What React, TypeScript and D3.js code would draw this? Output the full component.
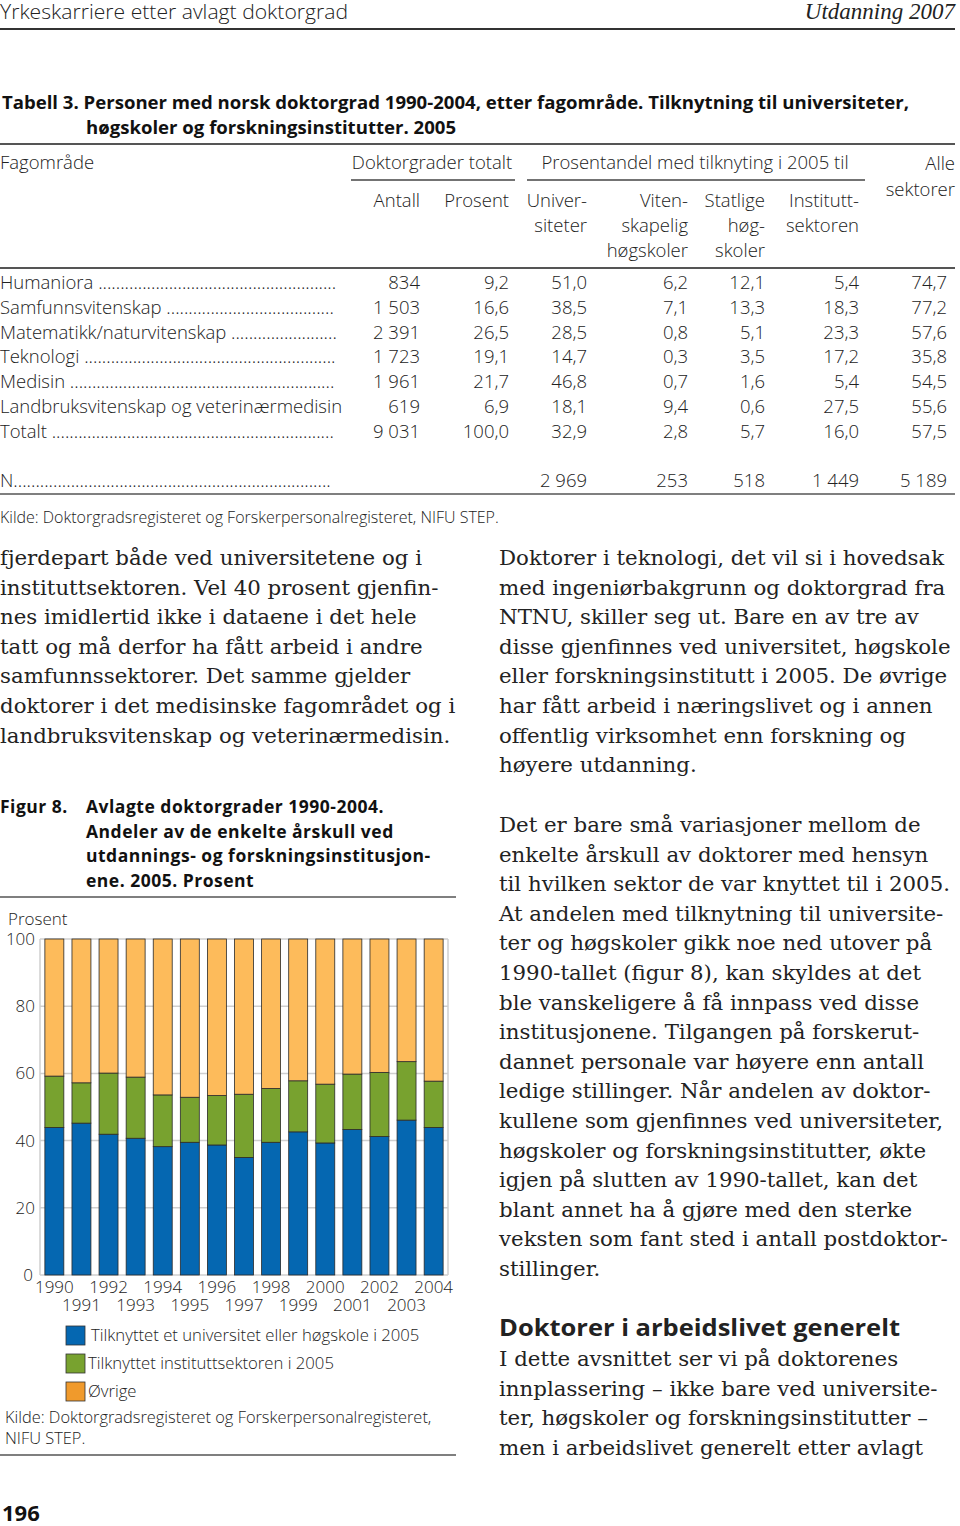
import React from "react";
import * as d3 from "d3";

const years = ["1990","1991","1992","1993","1994","1995","1996","1997","1998","1999","2000","2001","2002","2003","2004"];
const uniShare = [43.9,45.2,41.9,40.7,38.2,39.5,38.7,35.0,39.5,42.6,39.3,43.3,41.2,46.1,43.9];
const instShare = [15.3,12.0,18.2,18.2,15.4,13.4,14.7,18.8,16.0,15.2,17.5,16.5,19.1,17.4,13.8];
const seriesNames = ["Tilknyttet et universitet eller høgskole i 2005","Tilknyttet instituttsektoren i 2005","Øvrige"];
const yTicks = [0,20,40,60,80,100];

const fields = ["Humaniora","Samfunnsvitenskap","Matematikk/naturvitenskap","Teknologi","Medisin","Landbruksvitenskap og veterinærmedisin","Totalt"];
const antall = ["834","1 503","2 391","1 723","1 961","619","9 031"];
const prosent = ["9,2","16,6","26,5","19,1","21,7","6,9","100,0"];
const univ = ["51,0","38,5","28,5","14,7","46,8","18,1","32,9"];
const viten = ["6,2","7,1","0,8","0,3","0,7","9,4","2,8"];
const statlige = ["12,1","13,3","5,1","3,5","1,6","0,6","5,7"];
const institutt = ["5,4","18,3","23,3","17,2","5,4","27,5","16,0"];
const alle = ["74,7","77,2","57,6","35,8","54,5","55,6","57,5"];
const nRow = ["2 969","253","518","1 449","5 189"];

const leftText = [
  "fjerdepart både ved universitetene og i",
  "instituttsektoren. Vel 40 prosent gjenfin-",
  "nes imidlertid ikke i dataene i det hele",
  "tatt og må derfor ha fått arbeid i andre",
  "samfunnssektorer. Det samme gjelder",
  "doktorer i det medisinske fagområdet og i",
  "landbruksvitenskap og veterinærmedisin.",
];
const rightText1 = [
  "Doktorer i teknologi, det vil si i hovedsak",
  "med ingeniørbakgrunn og doktorgrad fra",
  "NTNU, skiller seg ut. Bare en av tre av",
  "disse gjenfinnes ved universitet, høgskole",
  "eller forskningsinstitutt i 2005. De øvrige",
  "har fått arbeid i næringslivet og i annen",
  "offentlig virksomhet enn forskning og",
  "høyere utdanning.",
];
const rightText2 = [
  "Det er bare små variasjoner mellom de",
  "enkelte årskull av doktorer med hensyn",
  "til hvilken sektor de var knyttet til i 2005.",
  "At andelen med tilknytning til universite-",
  "ter og høgskoler gikk noe ned utover på",
  "1990-tallet (figur 8), kan skyldes at det",
  "ble vanskeligere å få innpass ved disse",
  "institusjonene. Tilgangen på forskerut-",
  "dannet personale var høyere enn antall",
  "ledige stillinger. Når andelen av doktor-",
  "kullene som gjenfinnes ved universiteter,",
  "høgskoler og forskningsinstitutter, økte",
  "igjen på slutten av 1990-tallet, kan det",
  "blant annet ha å gjøre med den sterke",
  "veksten som fant sted i antall postdoktor-",
  "stillinger.",
];
const rightText3 = [
  "I dette avsnittet ser vi på doktorenes",
  "innplassering – ikke bare ved universite-",
  "ter, høgskoler og forskningsinstitutter –",
  "men i arbeidslivet generelt etter avlagt",
];
const figTitle = [
  "Avlagte doktorgrader 1990-2004.",
  "Andeler av de enkelte årskull ved",
  "utdannings- og forskningsinstitusjon-",
  "ene. 2005. Prosent",
];

const SANS = "'Open Sans', 'DejaVu Sans', sans-serif";
const SERIF = "'DejaVu Serif', 'Liberation Serif', serif";
const barColors = ["#0567b1", "#78a22f", "#fdbb5b"];
const legendColors = ["#0567b1", "#78a22f", "#f09a2c"];
const TFS = 18.5;

let ctx: CanvasRenderingContext2D | null = null;
function measure(txt: string, font: string): number {
  if (typeof document === "undefined") return txt.length * 9;
  if (!ctx) ctx = document.createElement("canvas").getContext("2d");
  if (!ctx) return txt.length * 9;
  ctx.font = font;
  return ctx.measureText(txt).width;
}
function leader(label: string, end: number): string {
  const font = `300 ${TFS}px 'Open Sans'`;
  const base = label + " ";
  const w = measure(base, font);
  const dw = measure(".", font) || 5;
  const n = Math.max(0, Math.floor((end - w) / dw));
  return base + ".".repeat(n);
}

export default function App() {
  const x = d3.scaleBand<string>().domain(years).range([40, 448]).paddingInner(0.3).paddingOuter(0.18);
  const y = d3.scaleLinear().domain([0, 100]).range([1275, 939]);
  const rows = years.map((yr, i) => ({
    year: yr,
    uni: uniShare[i],
    inst: instShare[i],
    other: 100 - uniShare[i] - instShare[i],
  }));
  const stacked = d3.stack<any>().keys(["uni", "inst", "other"])(rows);

  const rowY = (i: number) => 289 + i * 24.8;
  const numCols: [string[], number][] = [
    [antall, 420], [prosent, 509], [univ, 587], [viten, 688], [statlige, 765], [institutt, 859], [alle, 947],
  ];
  const tStyle = { fontFamily: SANS, fontSize: TFS, fontWeight: 300, fill: "#222" } as any;
  const cStyle = { fontFamily: SANS, fontSize: 17, fontWeight: 300, fill: "#222" } as any;
  const serifStyle = { fontFamily: SERIF, fontSize: 21.3, fill: "#222" } as any;
  const boldTitle = { fontFamily: SANS, fontWeight: 700, fontSize: 17.5, fill: "#111", letterSpacing: 0.5 } as any;

  return (
    <svg width={960} height={1526} style={{ position: "absolute", left: 0, top: 0, background: "#fff" }}>
      {/* page header */}
      <text x={0} y={19} style={{ ...tStyle, fontSize: 20 }} textLength={348} lengthAdjust="spacingAndGlyphs">Yrkeskarriere etter avlagt doktorgrad</text>
      <text x={955} y={19} textAnchor="end" style={{ fontFamily: "'Liberation Serif', serif", fontStyle: "italic", fontSize: 23, fill: "#222" }}>Utdanning 2007</text>
      <line x1={0} x2={955} y1={29} y2={29} stroke="#333" strokeWidth={2} />

      {/* table title */}
      <text x={2} y={109} style={{ fontFamily: SANS, fontWeight: 700, fontSize: 17.5, fill: "#111" }} textLength={907} lengthAdjust="spacingAndGlyphs">Tabell 3. Personer med norsk doktorgrad 1990-2004, etter fagområde. Tilknytning til universiteter,</text>
      <text x={86} y={134} style={{ fontFamily: SANS, fontWeight: 700, fontSize: 17.5, fill: "#111" }} textLength={370} lengthAdjust="spacingAndGlyphs">høgskoler og forskningsinstitutter. 2005</text>
      <line x1={0} x2={955} y1={144} y2={144} stroke="#555" strokeWidth={2} />

      {/* table header */}
      <text x={0} y={169} style={tStyle}>Fagområde</text>
      <text x={432} y={169} textAnchor="middle" style={tStyle}>Doktorgrader totalt</text>
      <line x1={351} x2={515} y1={180} y2={180} stroke="#444" strokeWidth={1.3} />
      <text x={695} y={169} textAnchor="middle" style={tStyle}>Prosentandel med tilknyting i 2005 til</text>
      <line x1={527} x2={865} y1={180} y2={180} stroke="#444" strokeWidth={1.3} />
      <text x={955} y={170} textAnchor="end" style={tStyle}>Alle</text>
      <text x={955} y={196} textAnchor="end" style={tStyle}>sektorer</text>
      <text x={420} y={207} textAnchor="end" style={tStyle}>Antall</text>
      <text x={509} y={207} textAnchor="end" style={tStyle}>Prosent</text>
      <text x={587} y={207} textAnchor="end" style={tStyle}>Univer-</text>
      <text x={587} y={232} textAnchor="end" style={tStyle}>siteter</text>
      <text x={688} y={207} textAnchor="end" style={tStyle}>Viten-</text>
      <text x={688} y={232} textAnchor="end" style={tStyle}>skapelig</text>
      <text x={688} y={257} textAnchor="end" style={tStyle}>høgskoler</text>
      <text x={765} y={207} textAnchor="end" style={tStyle}>Statlige</text>
      <text x={765} y={232} textAnchor="end" style={tStyle}>høg-</text>
      <text x={765} y={257} textAnchor="end" style={tStyle}>skoler</text>
      <text x={859} y={207} textAnchor="end" style={tStyle}>Institutt-</text>
      <text x={859} y={232} textAnchor="end" style={tStyle}>sektoren</text>
      <line x1={0} x2={955} y1={268} y2={268} stroke="#555" strokeWidth={2} />

      {/* table body */}
      {fields.map((f, i) => (
        <g key={f}>
          <text x={0} y={rowY(i)} style={tStyle}>{i === 5 ? f : leader(f, 338)}</text>
          {numCols.map(([arr, xr], j) => (
            <text key={j} x={xr} y={rowY(i)} textAnchor="end" style={tStyle}>{arr[i]}</text>
          ))}
        </g>
      ))}
      <text x={0} y={487} style={tStyle}>{leader("N", 338).replace("N ", "N")}</text>
      {nRow.map((v, j) => (
        <text key={j} x={numCols[j + 2][1]} y={487} textAnchor="end" style={tStyle}>{v}</text>
      ))}
      <line x1={0} x2={955} y1={494} y2={494} stroke="#555" strokeWidth={1.5} />
      <text x={0} y={523} style={{ ...tStyle, fontSize: 16 }}>Kilde: Doktorgradsregisteret og Forskerpersonalregisteret, NIFU STEP.</text>

      {/* body text */}
      {leftText.map((t, i) => (
        <text key={"l" + i} x={0} y={565 + i * 29.6} style={serifStyle}>{t}</text>
      ))}
      {rightText1.map((t, i) => (
        <text key={"r1" + i} x={499} y={565 + i * 29.6} style={serifStyle}>{t}</text>
      ))}
      {rightText2.map((t, i) => (
        <text key={"r2" + i} x={499} y={832 + i * 29.6} style={serifStyle}>{t}</text>
      ))}
      <text x={499} y={1336} style={{ fontFamily: SANS, fontWeight: 700, fontSize: 23.5, fill: "#222" }} textLength={401} lengthAdjust="spacingAndGlyphs">Doktorer i arbeidslivet generelt</text>
      {rightText3.map((t, i) => (
        <text key={"r3" + i} x={499} y={1366 + i * 29.6} style={serifStyle}>{t}</text>
      ))}

      {/* figure title */}
      <text x={0} y={813} style={boldTitle}>Figur 8.</text>
      {figTitle.map((t, i) => (
        <text key={"f" + i} x={86} y={813 + i * 24.7} style={boldTitle}>{t}</text>
      ))}
      <line x1={0} x2={456} y1={897} y2={897} stroke="#555" strokeWidth={1.5} />

      {/* chart */}
      <text x={8} y={925} style={cStyle}>Prosent</text>
      {yTicks.map((t) => (
        <g key={t}>
          <line x1={40} x2={448} y1={y(t)} y2={y(t)} stroke="#cfcfcf" strokeWidth={1.5} />
          <text x={t === 0 ? 33 : 35} y={y(t) + 6} textAnchor="end" style={cStyle}>{t}</text>
        </g>
      ))}
      <line x1={40} x2={40} y1={939} y2={1275} stroke="#cfcfcf" strokeWidth={1.5} />
      <line x1={448} x2={448} y1={939} y2={1275} stroke="#cfcfcf" strokeWidth={1.5} />
      {stacked.map((s, si) => (
        <g key={si}>
          {s.map((d: any) => (
            <rect key={d.data.year} x={x(d.data.year)} y={y(d[1])} width={x.bandwidth()} height={y(d[0]) - y(d[1])}
              fill={barColors[si]} stroke="#2a2a2a" strokeWidth={0.8} />
          ))}
        </g>
      ))}
      {years.map((yr, i) => (
        <text key={yr} x={(x(yr) as number) + x.bandwidth() / 2} y={i % 2 === 0 ? 1293 : 1311} textAnchor="middle" style={cStyle}>{yr}</text>
      ))}

      {/* legend */}
      {seriesNames.map((n, i) => (
        <g key={n}>
          <rect x={66} y={1326 + i * 28} width={19} height={19} fill={legendColors[i]} stroke="#333" strokeWidth={0.8} />
          <text x={i === 0 ? 91 : 88} y={1341 + i * 28} style={{ ...cStyle, fontSize: 16.7 }}>{n}</text>
        </g>
      ))}
      <text x={5} y={1423} style={{ ...cStyle, fontSize: 16.4 }}>Kilde: Doktorgradsregisteret og Forskerpersonalregisteret,</text>
      <text x={5} y={1444} style={{ ...cStyle, fontSize: 16.4 }}>NIFU STEP.</text>
      <line x1={0} x2={456} y1={1455} y2={1455} stroke="#555" strokeWidth={1.5} />

      <text x={2} y={1521} style={{ fontFamily: SANS, fontWeight: 700, fontSize: 22, fill: "#111" }}>196</text>
    </svg>
  );
}
